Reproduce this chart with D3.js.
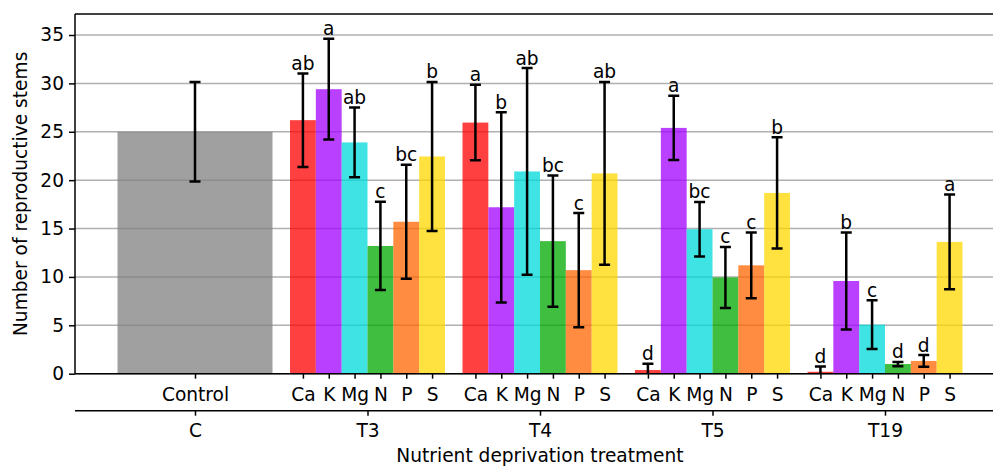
<!DOCTYPE html>
<html>
<head>
<meta charset="utf-8">
<script src="https://cdn.jsdelivr.net/npm/d3@7"></script>
<style>
  html, body { margin: 0; padding: 0; background: #fff; }
  svg { display: block; }
  text { font-family: "DejaVu Sans", sans-serif; fill: #000; }
</style>
</head>
<body>
<svg id="chart" width="993" height="466"></svg>
<script>
// ---------------- data ----------------
const groups = ["C", "T3", "T4", "T5", "T19"];
const nutrients = ["Ca", "K", "Mg", "N", "P", "S"];
const nutrientColors = ["#ff0000", "#a100ff", "#00dada", "#00a800", "#ff6600", "#ffd800"];
const controlColor = "#808080";
const controlLabel = "Control";
const controlMean = 25.0;
const controlErr = 5.15;

const meanT3 = [26.2, 29.4, 23.9, 13.2, 15.7, 22.45];
const errT3  = [4.83, 5.2, 3.6, 4.56, 5.9, 7.7];
const letT3  = ["ab", "a", "ab", "c", "bc", "b"];

const meanT4 = [25.95, 17.2, 20.9, 13.7, 10.7, 20.7];
const errT4  = [3.9, 9.83, 10.68, 6.78, 5.9, 9.45];
const letT4  = ["a", "b", "ab", "bc", "c", "ab"];

const meanT5 = [0.38, 25.4, 14.93, 9.95, 11.2, 18.68];
const errT5  = [0.65, 3.32, 2.82, 3.15, 3.4, 5.75];
const letT5  = ["d", "a", "bc", "c", "c", "b"];

const meanT19 = [0.2, 9.58, 5.07, 1.0, 1.32, 13.62];
const errT19  = [0.55, 5.0, 2.53, 0.22, 0.6, 4.9];
const letT19  = ["d", "b", "c", "d", "d", "a"];

const yTicks = [0, 5, 10, 15, 20, 25, 30, 35];
const yMax = 37.17;
const yLabel = "Number of reproductive stems";
const xLabel = "Nutrient deprivation treatment";

// ---------------- build table ----------------
const treat = { T3: [meanT3, errT3, letT3], T4: [meanT4, errT4, letT4],
                T5: [meanT5, errT5, letT5], T19: [meanT19, errT19, letT19] };
const rows = [];
["T3", "T4", "T5", "T19"].forEach(g => {
  const [m, e, l] = treat[g];
  nutrients.forEach((n, i) => rows.push({ group: g, nut: n, mean: m[i], err: e[i], letter: l[i], color: nutrientColors[i] }));
});

// ---------------- layout ----------------
const FS = 18.6;
const L = 75, R = 1005, T = 14, B = 373.7, B2 = 410.7;
const svg = d3.select("#chart");

const y = d3.scaleLinear().domain([0, yMax]).range([B, T]);
const x = d3.scaleBand().domain(groups).range([L, R]).paddingInner(0.10145).paddingOuter(0.2464);
const xn = d3.scaleBand().domain(nutrients).range([0, x.bandwidth()]).padding(0);

svg.append("defs").append("clipPath").attr("id", "clip")
  .append("rect").attr("x", L).attr("y", T).attr("width", R - L).attr("height", B - T);

// grid
svg.append("g").selectAll("line").data(yTicks).join("line")
  .attr("x1", L).attr("x2", R).attr("y1", d => y(d)).attr("y2", d => y(d))
  .attr("stroke", "#b0b0b0").attr("stroke-width", 1.5);

const plot = svg.append("g").attr("clip-path", "url(#clip)");

// control bar
plot.append("rect")
  .attr("x", x("C")).attr("width", x.bandwidth())
  .attr("y", y(controlMean)).attr("height", y(0) - y(controlMean))
  .attr("fill", controlColor).attr("fill-opacity", 0.75);

// nutrient bars
plot.append("g").selectAll("rect").data(rows).join("rect")
  .attr("x", d => x(d.group) + xn(d.nut)).attr("width", xn.bandwidth())
  .attr("y", d => y(d.mean)).attr("height", d => y(0) - y(d.mean))
  .attr("fill", d => d.color).attr("fill-opacity", 0.75);

// error bars
const errData = [{ cx: x("C") + x.bandwidth() / 2, mean: controlMean, err: controlErr }]
  .concat(rows.map(d => ({ cx: x(d.group) + xn(d.nut) + xn.bandwidth() / 2, mean: d.mean, err: d.err })));
const eg = plot.append("g").attr("stroke", "#000").attr("stroke-width", 2.5);
errData.forEach(d => {
  const y1 = y(d.mean + d.err), y0 = y(d.mean - d.err);
  eg.append("line").attr("x1", d.cx).attr("x2", d.cx).attr("y1", y1).attr("y2", y0);
  eg.append("line").attr("x1", d.cx - 5.5).attr("x2", d.cx + 5.5).attr("y1", y1).attr("y2", y1);
  eg.append("line").attr("x1", d.cx - 5.5).attr("x2", d.cx + 5.5).attr("y1", y0).attr("y2", y0);
});

// letters
svg.append("g").selectAll("text").data(rows).join("text")
  .attr("x", d => x(d.group) + xn(d.nut) + xn.bandwidth() / 2)
  .attr("y", d => y(d.mean + d.err) - 3.5)
  .attr("text-anchor", "middle").attr("font-size", FS)
  .text(d => d.letter);

// spines
const sp = svg.append("g").attr("stroke", "#000").attr("stroke-width", 1.5).attr("fill", "none");
sp.append("line").attr("x1", L).attr("x2", R).attr("y1", T).attr("y2", T);
sp.append("line").attr("x1", L).attr("x2", L).attr("y1", T).attr("y2", B);
sp.append("line").attr("x1", R).attr("x2", R).attr("y1", T).attr("y2", B);
sp.append("line").attr("x1", L).attr("x2", R).attr("y1", B).attr("y2", B);
sp.append("line").attr("x1", L).attr("x2", R).attr("y1", B2).attr("y2", B2);

// y axis
const ya = svg.append("g").attr("transform", `translate(${L},0)`)
  .call(d3.axisLeft(y).tickValues(yTicks).tickSize(6).tickPadding(5).tickSizeOuter(0));
ya.select(".domain").remove();
ya.selectAll(".tick line").attr("stroke-width", 1.5);
ya.selectAll("text").attr("font-size", FS).attr("font-family", "DejaVu Sans");

// inner x axis (nutrient + control labels)
const innerTicks = [{ pos: x("C") + x.bandwidth() / 2, label: controlLabel }]
  .concat(rows.map(d => ({ pos: x(d.group) + xn(d.nut) + xn.bandwidth() / 2, label: d.nut })));
const xi = d3.scaleOrdinal().domain(innerTicks.map((d, i) => i)).range(innerTicks.map(d => d.pos));
const xa = svg.append("g").attr("transform", `translate(0,${B})`)
  .call(d3.axisBottom(xi).tickSize(5).tickPadding(9.5).tickFormat((d, i) => innerTicks[i].label));
xa.select(".domain").remove();
xa.selectAll(".tick line").attr("stroke-width", 1.5);
xa.selectAll("text").attr("font-size", FS).attr("font-family", "DejaVu Sans");

// outer x axis (groups)
const xo = svg.append("g").attr("transform", `translate(0,${B2})`)
  .call(d3.axisBottom(d3.scalePoint().domain(groups).range([x("C") + x.bandwidth() / 2, x("T19") + x.bandwidth() / 2]))
    .tickSize(5).tickPadding(8.5));
xo.select(".domain").remove();
xo.selectAll(".tick line").attr("stroke-width", 1.5);
xo.selectAll("text").attr("font-size", FS).attr("font-family", "DejaVu Sans");

// axis titles
svg.append("text").attr("x", (L + R) / 2).attr("y", 462)
  .attr("text-anchor", "middle").attr("font-size", FS).text(xLabel);
svg.append("text").attr("transform", `translate(26.7,${(T + B) / 2}) rotate(-90)`)
  .attr("text-anchor", "middle").attr("font-size", FS).text(yLabel);
</script>
</body>
</html>
